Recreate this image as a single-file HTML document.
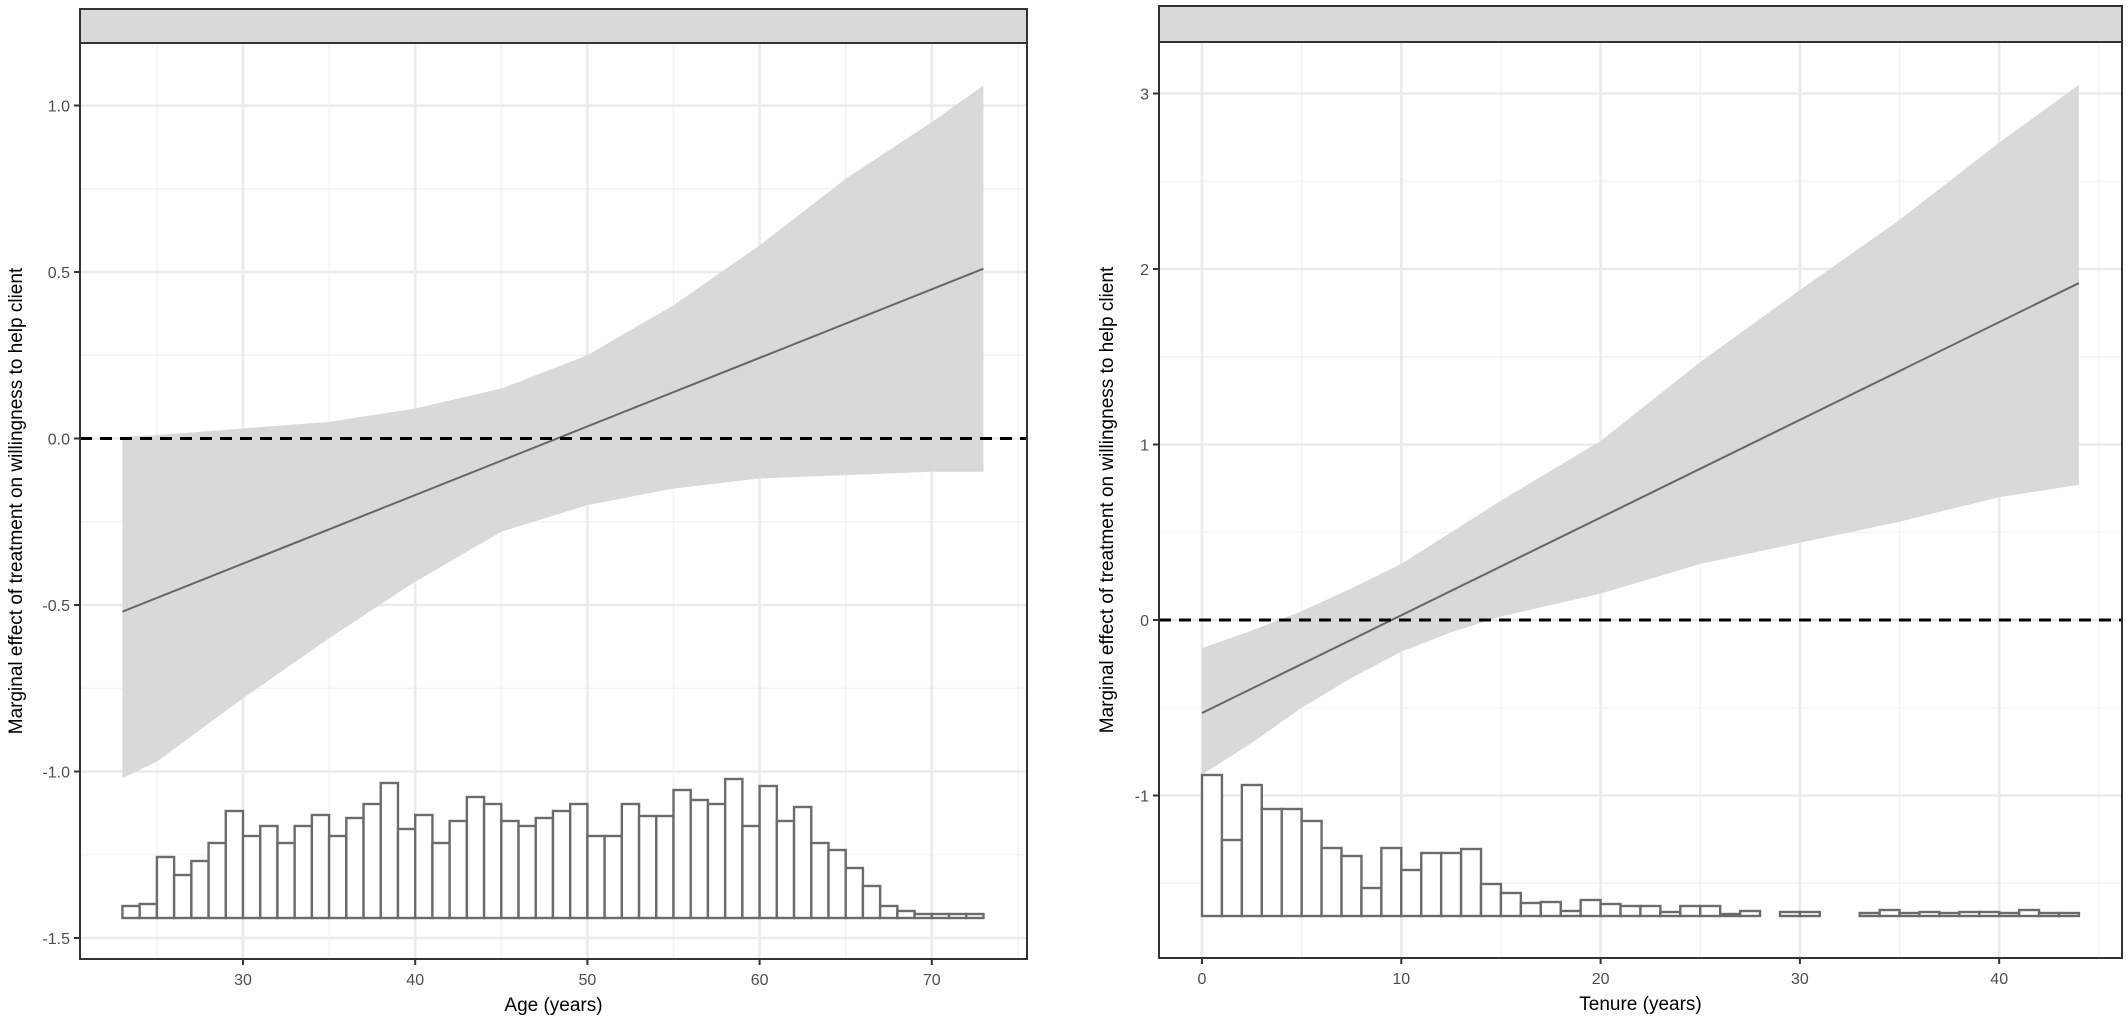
<!DOCTYPE html>
<html><head><meta charset="utf-8"><style>
html,body{margin:0;padding:0;background:#fff;}
svg{display:block;font-family:"Liberation Sans",sans-serif;}
</style></head><body>
<svg id="c" width="2128" height="1020" viewBox="0 0 2128 1020"></svg>
<script>
// ---- Left panel data (Age) ----
const ageRibbonX = [23,25,30,35,40,45,50,55,60,65,70,73];
const ageUpper = [0.005,0.01,0.03,0.05,0.09,0.15,0.25,0.40,0.58,0.78,0.95,1.06];
const ageLower = [-1.02,-0.97,-0.78,-0.60,-0.43,-0.28,-0.20,-0.15,-0.12,-0.11,-0.10,-0.10];
const ageLineX = [23,73];
const ageLineY = [-0.52,0.51];
const ageBinStart = 23;
const ageCounts = [12,14,61,43,57,75,107,82,92,75,92,103,82,100,114,135,89,103,75,97,121,114,97,92,100,107,114,82,82,114,102,102,128,118,114,139,92,132,97,111,75,68,50,32,12,7,4,4,4,4];
const ageXTicks = [30,40,50,60,70];
const ageYTicks = [-1.5,-1.0,-0.5,0.0,0.5,1.0];
const ageYLabels = ["-1.5","-1.0","-0.5","0.0","0.5","1.0"];
// ---- Right panel data (Tenure) ----
const tenRibbonX = [0,2.5,5,7.5,10,12.5,15,20,25,30,35,40,44];
const tenUpper = [-0.16,-0.06,0.05,0.18,0.32,0.50,0.68,1.02,1.47,1.88,2.28,2.72,3.05];
const tenLower = [-0.88,-0.70,-0.50,-0.33,-0.18,-0.07,0.02,0.15,0.32,0.44,0.56,0.70,0.77];
const tenLineX = [0,44];
const tenLineY = [-0.53,1.92];
const tenBinStart = 0;
const tenCounts = [141,76,131,107,107,95,68,60,28,68,46,63,63,67,32,23,13,14,5,16,12,10,10,4,10,10,2,5,0,4,4,0,0,3,6,3,4,3,4,4,3,6,3,3];
const tenXTicks = [0,10,20,30,40];
const tenYTicks = [-1,0,1,2,3];
const tenYLabels = ["-1","0","1","2","3"];

const NS="http://www.w3.org/2000/svg";
const svg=document.getElementById('c');
function mk(tag,attrs,parent){const e=document.createElementNS(NS,tag);for(const k in attrs)e.setAttribute(k,attrs[k]);(parent||svg).appendChild(e);return e;}

function panel(cfg){
  const g=mk('g',{});
  
  
  const X=v=>cfg.x0px+(v-cfg.x0v)*cfg.xs;
  const Y=v=>cfg.y0px-(v)*cfg.ys;
  const p=cfg.box;
  // background
  mk('rect',{x:p.l,y:p.t,width:p.r-p.l,height:p.b-p.t,fill:'#fff'},g);
  // minor grid
  for(let v=cfg.xMin;v<=cfg.xMax;v+=cfg.xStep){const x=X(v+cfg.xStep/2);if(x>p.l&&x<p.r){const l=mk('line',{x1:x,x2:x,y1:p.t,y2:p.b,stroke:'#f2f2f2','stroke-width':1.3},g);}}
  for(let v=cfg.yMin;v<=cfg.yMax;v+=cfg.yStep){const y=Y(v+cfg.yStep/2);if(y>p.t&&y<p.b){const l=mk('line',{x1:p.l,x2:p.r,y1:y,y2:y,stroke:'#f2f2f2','stroke-width':1.3},g);}}
  {const x=X(cfg.xMin-cfg.xStep/2);if(x>p.l){mk('line',{x1:x,x2:x,y1:p.t,y2:p.b,stroke:'#f2f2f2','stroke-width':1.3},g);}}
  {const y=Y(cfg.yMin-cfg.yStep/2);if(y<p.b){mk('line',{x1:p.l,x2:p.r,y1:y,y2:y,stroke:'#f2f2f2','stroke-width':1.3},g);}}
  // major grid
  cfg.xTicks.forEach(v=>{const l=mk('line',{x1:X(v),x2:X(v),y1:p.t,y2:p.b,stroke:'#ebebeb','stroke-width':2.6},g);});
  cfg.yTicks.forEach(v=>{const l=mk('line',{x1:p.l,x2:p.r,y1:Y(v),y2:Y(v),stroke:'#ebebeb','stroke-width':2.6},g);});
  // ribbon
  let d='';
  cfg.rx.forEach((v,i)=>{d+=(i?'L':'M')+X(v)+','+Y(cfg.up[i]);});
  for(let i=cfg.rx.length-1;i>=0;i--)d+='L'+X(cfg.rx[i])+','+Y(cfg.lo[i]);
  const rib=mk('path',{d:d+'Z',fill:'#d9d9d9'},g);
  
  
  // effect line
  const ln=mk('line',{x1:X(cfg.lx[0]),y1:Y(cfg.ly[0]),x2:X(cfg.lx[1]),y2:Y(cfg.ly[1]),stroke:'#666','stroke-width':2},g);
  
  
  // zero line
  const z=mk('line',{x1:p.l,x2:p.r,y1:Y(0),y2:Y(0),stroke:'#000','stroke-width':3,'stroke-dasharray':'12,8'},g);
  
  
  // histogram
  const hg=mk('g',{},g);
  
  
  cfg.counts.forEach((c,i)=>{
    const x1=X(cfg.binStart+i),x2=X(cfg.binStart+i+1);
    const r=mk('rect',{x:x1,y:cfg.hBase-c*cfg.hScale,width:x2-x1,height:c*cfg.hScale,fill:'#fff',stroke:'#6b6b6b','stroke-width':2.4},hg);
    
    
  });
  // border
  mk('rect',{x:p.l,y:p.t,width:p.r-p.l,height:p.b-p.t,fill:'none',stroke:'#333','stroke-width':2},g);
  // strip
  const st=mk('rect',{x:p.l,y:cfg.stripTop,width:p.r-p.l,height:p.t-cfg.stripTop,fill:'#d9d9d9',stroke:'#333','stroke-width':2},g);
  
  
  // ticks & labels
  cfg.xTicks.forEach(v=>{
    mk('line',{x1:X(v),x2:X(v),y1:p.b,y2:p.b+6,stroke:'#333','stroke-width':2},g);
    const t=mk('text',{x:X(v),y:p.b+26,'font-size':16,fill:'#4d4d4d','text-anchor':'middle'},g);
    t.textContent=v;
    
    
  });
  cfg.yTicks.forEach((v,i)=>{
    mk('line',{x1:p.l-6,x2:p.l,y1:Y(v),y2:Y(v),stroke:'#333','stroke-width':2},g);
    const t=mk('text',{x:p.l-10,y:Y(v)+6,'font-size':16,fill:'#4d4d4d','text-anchor':'end'},g);
    t.textContent=cfg.yLabels[i];
    
    
  });
  const xt=mk('text',{x:(p.l+p.r)/2,y:p.b+52,'font-size':19,fill:'#000','text-anchor':'middle'},g);
  xt.textContent=cfg.xTitle;
  
  
  const yt=mk('text',{x:0,y:0,'font-size':19,fill:'#000','text-anchor':'middle',transform:`translate(${cfg.yTitleX},${(p.t+p.b)/2}) rotate(-90)`},g);
  yt.textContent='Marginal effect of treatment on willingness to help client';
  
  
}

panel({name:'age-panel',box:{l:80,r:1027,t:43,b:959},stripTop:9,
  x0px:243,x0v:30,xs:17.22,y0px:438.5,ys:333,
  xMin:20,xMax:75,xStep:10,yMin:-1.5,yMax:1.0,yStep:0.5,
  xTicks:ageXTicks,yTicks:ageYTicks,yLabels:ageYLabels,
  rx:ageRibbonX,up:ageUpper,lo:ageLower,lx:ageLineX,ly:ageLineY,
  binStart:ageBinStart,counts:ageCounts,hBase:918,hScale:1,
  xTitle:'Age (years)',yTitleX:22});
panel({name:'tenure-panel',box:{l:1159,r:2122,t:42,b:958},stripTop:6,
  x0px:1202,x0v:0,xs:19.93,y0px:620,ys:175.5,
  xMin:0,xMax:45,xStep:10,yMin:-1,yMax:3,yStep:1,
  xTicks:tenXTicks,yTicks:tenYTicks,yLabels:tenYLabels,
  rx:tenRibbonX,up:tenUpper,lo:tenLower,lx:tenLineX,ly:tenLineY,
  binStart:tenBinStart,counts:tenCounts,hBase:916,hScale:1,
  xTitle:'Tenure (years)',yTitleX:1113});
</script>
</body></html>
